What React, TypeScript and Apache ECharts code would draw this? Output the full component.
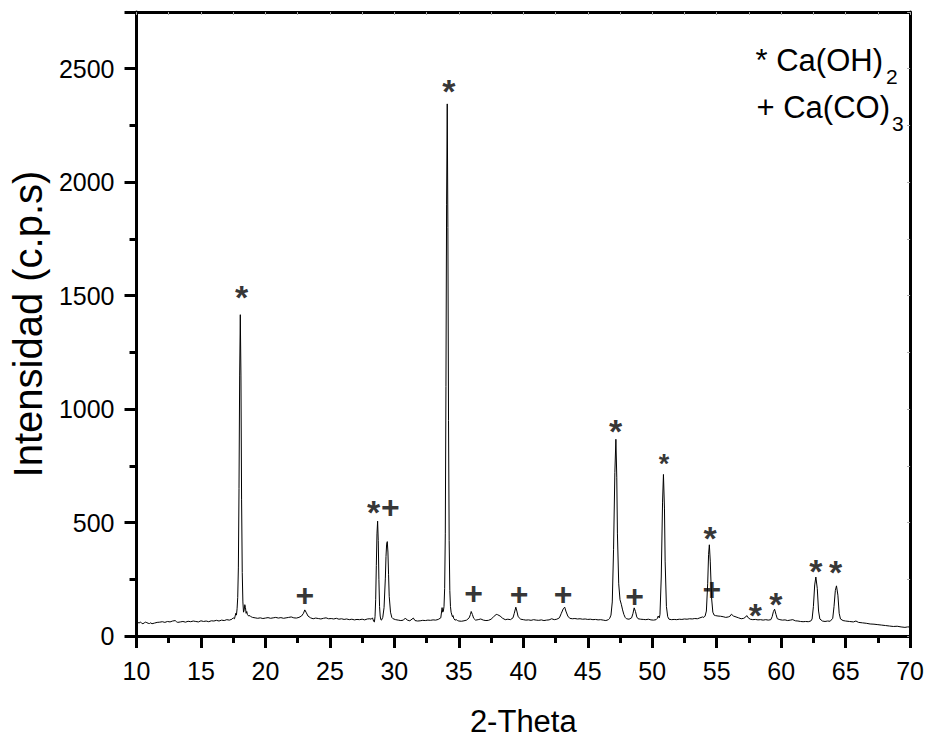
import React, { useEffect, useRef } from "react";
import * as echarts from "echarts";

// 2θ positions (degrees)
const twoTheta = [
  10.0, 10.1, 10.2, 10.3, 10.4, 10.5, 10.6, 10.7, 10.8, 10.9, 11.0, 11.1, 11.2, 11.4, 11.6, 11.8,
  12.0, 12.2, 12.4, 12.6, 12.8, 13.0, 13.1, 13.2, 13.4, 13.6, 13.8, 14.0, 14.2, 14.4, 14.6, 14.8,
  15.0, 15.2, 15.4, 15.6, 15.8, 16.0, 16.2, 16.4, 16.6, 16.8, 17.0, 17.2, 17.4, 17.5, 17.6, 17.65,
  17.7, 17.75, 17.8, 17.85, 17.9, 17.95, 18.0, 18.05, 18.1, 18.15, 18.2, 18.25, 18.3, 18.35, 18.4,
  18.45, 18.5, 18.55, 18.6, 18.7, 18.8, 18.9, 19.0, 19.2, 19.4, 19.6, 19.8, 20.0, 20.2, 20.4, 20.6,
  20.8, 21.0, 21.2, 21.4, 21.6, 21.8, 22.0, 22.2, 22.4, 22.6, 22.8, 22.95, 23.05, 23.15, 23.3, 23.5,
  23.7, 23.9, 24.1, 24.3, 24.5, 24.7, 24.9, 25.1, 25.3, 25.5, 25.7, 25.9, 26.1, 26.3, 26.5, 26.7,
  26.9, 27.1, 27.3, 27.5, 27.7, 27.9, 28.1, 28.2, 28.3, 28.4, 28.45, 28.5, 28.55, 28.6, 28.65, 28.7,
  28.75, 28.8, 28.85, 28.9, 28.95, 29.0, 29.1, 29.2, 29.3, 29.35, 29.4, 29.45, 29.5, 29.55, 29.6,
  29.7, 29.8, 29.9, 30.1, 30.3, 30.5, 30.7, 30.85, 31.0, 31.2, 31.47, 31.6, 31.8, 32.0, 32.2, 32.4,
  32.6, 32.8, 33.0, 33.2, 33.4, 33.6, 33.7, 33.75, 33.8, 33.85, 33.9, 33.95, 34.0, 34.05, 34.1,
  34.15, 34.2, 34.25, 34.3, 34.35, 34.4, 34.5, 34.55, 34.6, 34.7, 34.8, 34.9, 35.0, 35.2, 35.4,
  35.6, 35.8, 35.9, 35.96, 36.05, 36.15, 36.3, 36.5, 36.7, 36.9, 37.1, 37.3, 37.5, 37.7, 37.9, 38.0,
  38.2, 38.4, 38.6, 38.8, 39.0, 39.2, 39.3, 39.42, 39.5, 39.6, 39.8, 40.0, 40.2, 40.4, 40.6, 40.8,
  41.0, 41.2, 41.4, 41.6, 41.8, 42.0, 42.2, 42.4, 42.6, 42.8, 42.95, 43.1, 43.21, 43.3, 43.45, 43.6,
  43.8, 44.0, 44.2, 44.4, 44.6, 44.8, 45.0, 45.2, 45.4, 45.6, 45.8, 46.0, 46.2, 46.4, 46.6, 46.7,
  46.8, 46.9, 47.0, 47.1, 47.18, 47.25, 47.3, 47.4, 47.5, 47.6, 47.7, 47.8, 47.9, 48.0, 48.2, 48.4,
  48.5, 48.6, 48.7, 48.8, 48.9, 49.1, 49.3, 49.5, 49.7, 49.9, 50.1, 50.3, 50.4, 50.46, 50.55, 50.6,
  50.7, 50.8, 50.87, 50.95, 51.0, 51.1, 51.2, 51.3, 51.5, 51.7, 51.9, 52.1, 52.3, 52.5, 52.7, 52.9,
  53.1, 53.3, 53.5, 53.7, 53.9, 54.0, 54.1, 54.2, 54.3, 54.37, 54.43, 54.5, 54.6, 54.7, 54.8, 54.9,
  55.1, 55.3, 55.5, 55.7, 55.9, 56.05, 56.14, 56.3, 56.5, 56.7, 56.9, 57.1, 57.25, 57.33, 57.45,
  57.6, 57.8, 58.0, 58.2, 58.4, 58.6, 58.8, 59.0, 59.2, 59.3, 59.4, 59.49, 59.6, 59.7, 59.9, 60.1,
  60.3, 60.5, 60.7, 60.9, 61.1, 61.3, 61.5, 61.7, 61.9, 62.1, 62.3, 62.4, 62.5, 62.6, 62.69, 62.8,
  62.9, 63.0, 63.2, 63.4, 63.6, 63.8, 64.0, 64.1, 64.2, 64.29, 64.4, 64.5, 64.6, 64.8, 65.0, 65.3,
  65.6, 65.8, 66.0, 66.3, 66.6, 66.9, 67.2, 67.5, 67.8, 68.1, 68.4, 68.7, 69.0, 69.3, 69.6, 69.8, 70.0,
];

// intensity (c.p.s)
const intensity = [
  55, 60, 57, 62, 56, 54, 58, 61, 59, 56, 55, 58, 54, 57, 60, 61,
  63, 60, 64, 62, 66, 68, 63, 60, 62, 64, 61, 65, 63, 66, 64, 62,
  67, 64, 66, 63, 67, 66, 69, 66, 70, 68, 72, 70, 74, 80, 76, 88,
  100, 92, 120, 170, 300, 650, 1150, 1416, 1150, 600, 280, 150, 105, 115, 138,
  125, 100, 108, 95, 88, 90, 84, 82, 80, 78, 80, 77, 79, 81, 78, 80,
  82, 79, 81, 78, 80, 82, 84, 80, 79, 82, 88, 100, 115, 105, 88, 80,
  76, 79, 77, 75, 78, 80, 76, 77, 75, 78, 74, 76, 73, 75, 72, 74,
  71, 73, 72, 74, 71, 75, 76, 74, 80, 64, 62, 85, 160, 310, 450, 506,
  420, 250, 130, 88, 72, 70, 82, 125, 255, 350, 405, 416, 370, 270, 175,
  105, 82, 76, 72, 70, 68, 70, 79, 70, 67, 79, 68, 66, 67, 69, 68,
  70, 69, 71, 70, 73, 80, 125, 105, 110, 130, 210, 450, 1100, 1900, 2345,
  1800, 950, 420, 200, 130, 105, 85, 90, 78, 70, 72, 68, 66, 65, 67,
  70, 80, 95, 108, 95, 78, 70, 72, 75, 70, 68, 69, 74, 85, 95, 94,
  88, 78, 72, 74, 72, 80, 100, 127, 110, 85, 74, 72, 70, 71, 69, 72,
  70, 69, 71, 68, 70, 71, 76, 72, 74, 80, 100, 120, 127, 110, 88, 78,
  76, 77, 75, 76, 74, 75, 73, 74, 72, 73, 71, 72, 70, 68, 72, 78,
  92, 150, 380, 720, 867, 700, 450, 230, 160, 140, 115, 95, 82, 76, 74, 80,
  98, 124, 108, 84, 76, 74, 73, 72, 74, 71, 70, 72, 78, 88, 80, 95,
  260, 590, 712, 560, 330, 130, 85, 74, 72, 73, 72, 74, 73, 75, 74, 76,
  75, 77, 76, 80, 84, 82, 88, 110, 230, 360, 402, 330, 170, 105, 92, 90,
  88, 87, 85, 82, 84, 88, 96, 88, 84, 80, 76, 78, 84, 90, 80,
  74, 72, 73, 71, 72, 70, 72, 70, 72, 85, 108, 118, 95, 76, 72, 70,
  71, 68, 70, 72, 67, 66, 64, 63, 64, 63, 66, 75, 130, 225, 260, 210,
  110, 75, 66, 64, 66, 65, 78, 130, 200, 221, 180, 100, 75, 68, 66, 64,
  62, 66, 60, 58, 56, 53, 52, 50, 48, 46, 44, 42, 43, 40, 38, 40, 40,
];

// Peak annotations (position of the marker glyph in data units)
const markTheta = [18.15, 23.05, 28.39, 29.69, 34.23, 36.14, 39.67, 43.08, 47.16, 48.63, 50.92, 54.48, 54.62, 58.0, 59.59, 62.69, 64.22];
const markIntensity = [1527, 179, 576, 567, 2434, 188, 185, 185, 934, 177, 784, 463, 207, 123, 170, 318, 311];
const markSymbol = ["*", "+", "*", "+", "*", "+", "+", "+", "*", "+", "*", "*", "+", "*", "*", "*", "*"];
const markFontSize = [34, 32, 34, 32, 34, 32, 32, 32, 34, 32, 27, 34, 32, 34, 34, 34, 34];

const FONT = "'Liberation Sans', Arial, Helvetica, sans-serif";

export default function App() {
  const ref = useRef<HTMLDivElement>(null);

  useEffect(() => {
    if (!ref.current) return;
    const chart = echarts.init(ref.current, undefined, { renderer: "svg" });

    const lineData = twoTheta.map((t, i) => [t, intensity[i]]);
    const markData = markTheta.map((t, i) => {
      const fs = markFontSize[i];
      const isStar = markSymbol[i] === "*";
      return {
        value: [t, markIntensity[i]],
        label: {
          show: true,
          formatter: markSymbol[i],
          fontSize: fs,
          fontWeight: "bold",
          fontFamily: FONT,
          color: "#000",
          textBorderWidth: 0,
          position: "inside",
          offset: [0, isStar ? Math.round(fs * 0.22) : 0],
        },
      };
    });

    const axisBlack = { color: "#000", width: 3 };

    const option: any = {
      animation: false,
      backgroundColor: "#fff",
      grid: { left: 135.7, right: 16.3, top: 12, bottom: 96, containLabel: false },
      xAxis: [
        {
          type: "value",
          position: "bottom",
          min: 10,
          max: 70,
          interval: 5,
          name: "2-Theta",
          nameLocation: "middle",
          nameGap: 70,
          nameTextStyle: { fontSize: 31, color: "#000", fontFamily: FONT },
          axisLine: { show: true, onZero: false, lineStyle: axisBlack },
          axisTick: { show: true, inside: false, length: 12, lineStyle: axisBlack },
          minorTick: { show: true, splitNumber: 2, length: 7, lineStyle: axisBlack },
          splitLine: { show: false },
          minorSplitLine: { show: false },
          axisLabel: {
            fontSize: 25,
            color: "#000",
            fontFamily: FONT,
            margin: 22,
            formatter: (v: number) => String(v),
          },
        },
        {
          type: "value",
          position: "top",
          min: 10,
          max: 70,
          interval: 2.5,
          axisLine: { show: true, onZero: false, lineStyle: axisBlack },
          axisTick: { show: true, inside: true, length: 3, lineStyle: { color: "#aaa", width: 1 } },
          splitLine: { show: false },
          axisLabel: { show: false },
        },
      ],
      yAxis: [
        {
          type: "value",
          position: "left",
          min: 0,
          max: 2750,
          interval: 500,
          name: "Intensidad (c.p.s)",
          nameLocation: "middle",
          nameGap: 88,
          nameTextStyle: { fontSize: 40, color: "#000", fontFamily: FONT },
          axisLine: { show: true, onZero: false, lineStyle: axisBlack },
          axisTick: { show: true, inside: false, length: 12, lineStyle: axisBlack },
          minorTick: { show: true, splitNumber: 2, length: 7, lineStyle: axisBlack },
          splitLine: { show: false },
          minorSplitLine: { show: false },
          axisLabel: {
            fontSize: 25,
            color: "#000",
            fontFamily: FONT,
            margin: 22,
            showMaxLabel: false,
            formatter: (v: number) => (v > 2600 ? "" : String(v)),
          },
        },
        {
          type: "value",
          position: "right",
          min: 0,
          max: 2750,
          interval: 250,
          axisLine: { show: true, onZero: false, lineStyle: axisBlack },
          axisTick: { show: true, inside: true, length: 3, lineStyle: { color: "#aaa", width: 1 } },
          splitLine: { show: false },
          axisLabel: { show: false },
        },
      ],
      series: [
        {
          type: "line",
          xAxisIndex: 0,
          yAxisIndex: 0,
          data: lineData,
          showSymbol: false,
          symbol: "none",
          smooth: false,
          lineStyle: { color: "#000", width: 1 },
          silent: true,
          z: 3,
        },
        {
          type: "scatter",
          xAxisIndex: 0,
          yAxisIndex: 0,
          data: markData,
          symbolSize: 1,
          itemStyle: { color: "rgba(0,0,0,0)" },
          silent: true,
          z: 4,
        },
      ],
      graphic: [
        {
          type: "text",
          x: 883,
          y: 60,
          style: {
            text: "* Ca(OH)",
            fontSize: 31,
            fontFamily: FONT,
            fill: "#000",
            textAlign: "right",
            textVerticalAlign: "middle",
            align: "right",
            verticalAlign: "middle",
          },
        },
        {
          type: "text",
          x: 886,
          y: 76,
          style: {
            text: "2",
            fontSize: 21,
            fontFamily: FONT,
            fill: "#000",
            textAlign: "left",
            textVerticalAlign: "middle",
            align: "left",
            verticalAlign: "middle",
          },
        },
        {
          type: "text",
          x: 890,
          y: 107,
          style: {
            text: "+ Ca(CO)",
            fontSize: 31,
            fontFamily: FONT,
            fill: "#000",
            textAlign: "right",
            textVerticalAlign: "middle",
            align: "right",
            verticalAlign: "middle",
          },
        },
        {
          type: "text",
          x: 892,
          y: 123,
          style: {
            text: "3",
            fontSize: 21,
            fontFamily: FONT,
            fill: "#000",
            textAlign: "left",
            textVerticalAlign: "middle",
            align: "left",
            verticalAlign: "middle",
          },
        },
      ],
    };

    chart.setOption(option);
    return () => {
      chart.dispose();
    };
  }, []);

  return (
    <div
      ref={ref}
      style={{ position: "absolute", left: 0, top: 0, width: 927, height: 742, background: "#fff" }}
    />
  );
}
